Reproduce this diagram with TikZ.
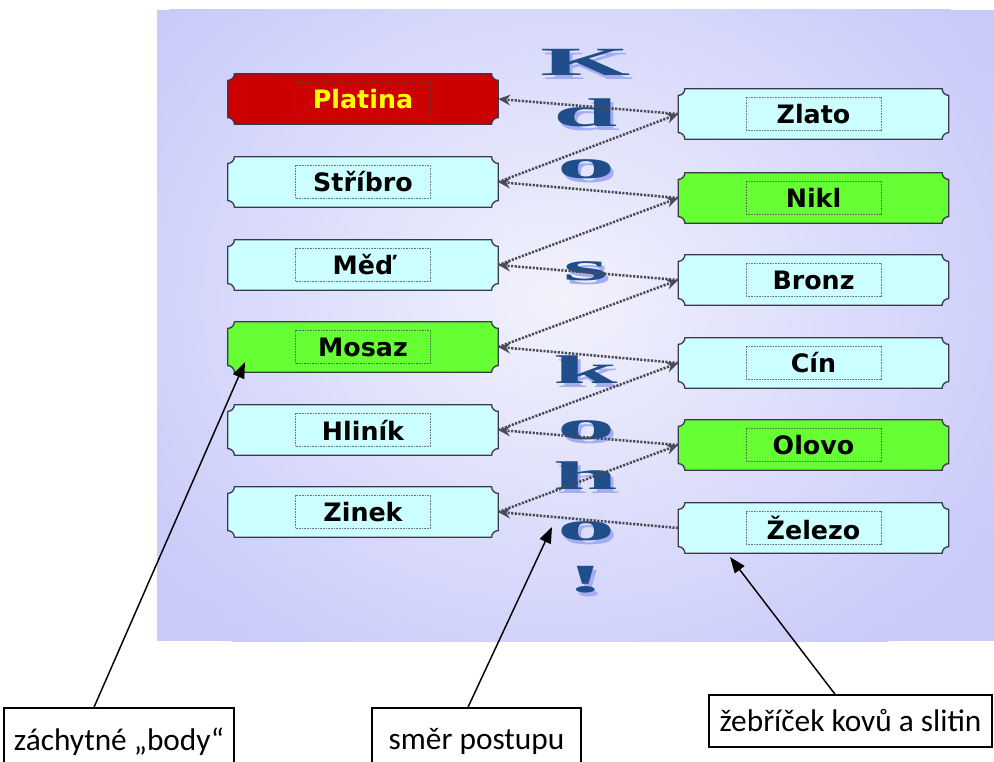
\documentclass[tikz,border=0pt]{standalone}
\usepackage{fontspec}
\setmainfont{Carlito}
\newfontfamily\boxfont{DejaVu Sans}
\newfontfamily\letfont{Liberation Serif}
\usetikzlibrary{arrows.meta}
\definecolor{bgc}{HTML}{C8CAFA}
\definecolor{glowc}{HTML}{F2F2FC}
\definecolor{cyanf}{HTML}{CCFFFF}
\definecolor{greenf}{HTML}{66FF33}
\definecolor{redf}{HTML}{CC0000}
\definecolor{yellowt}{HTML}{FFFF00}
\definecolor{outc}{HTML}{3A3A4A}
\definecolor{innerc}{HTML}{404050}
\definecolor{connc}{HTML}{4A4A55}
\definecolor{letc}{HTML}{1F4E8A}
\definecolor{letsh}{HTML}{A4ADF2}
\def\nr{5pt}
\tikzset{
  plaquebox/.style={rectangle, minimum width=202.5pt, minimum height=37.5pt, inner sep=0pt, draw=none},
  innerbox/.style={rectangle, minimum width=101.25pt, minimum height=24.75pt, inner sep=0pt,
    draw=innerc, draw opacity=0.7, line width=0.45pt, dash pattern=on 0.6pt off 0.6pt,
    font=\boxfont\bfseries\fontsize{19}{22}\selectfont},
  conn/.style={draw=connc, line width=1.9pt, dash pattern=on 1.6pt off 1.1pt,
    -{Stealth[length=9pt,width=8pt,inset=3pt]}},
  callout/.style={draw=black, line width=1.1pt, -{Triangle[length=12pt,width=9pt]}},
  calbox/.style={rectangle, draw=black, line width=1.1pt, inner sep=0pt,
    font=\fontsize{23.5}{26}\selectfont},
  letter/.style={anchor=base, inner sep=0pt, font=\letfont\bfseries\fontsize{30}{32}\selectfont},
}
\newcommand\plaque[2]{%
  \path[draw=outc, line width=1pt, fill=#2]
    ([xshift=\nr]#1.north west) -- ([xshift=-\nr]#1.north east)
    arc[start angle=180,end angle=270,radius=\nr]
    -- ([yshift=\nr]#1.south east)
    arc[start angle=90,end angle=180,radius=\nr]
    -- ([xshift=\nr]#1.south west)
    arc[start angle=0,end angle=90,radius=\nr]
    -- ([yshift=-\nr]#1.north west)
    arc[start angle=270,end angle=360,radius=\nr] -- cycle;}
\newcommand\metal[5]{%
  \node[plaquebox] (#1) at #2 {};
  \plaque{#1}{#3}
  \node[innerbox, text=#4] (#1t) at (#1) {#5};}
\begin{document}
\begin{tikzpicture}[x=0.75pt,y=-0.75pt]
\useasboundingbox (0,0) rectangle (994,762);
\fill[white] (0,0) rectangle (994,762);
\begin{scope}
  \clip (157,10) rectangle (994,641);
  \fill[bgc] (157,10) rectangle (994,641);
  \shade[inner color=glowc, outer color=bgc] (560,300) ellipse [x radius=520, y radius=440];
\end{scope}
% letters
\foreach \ch/\yy [count=\i] in {K/76,d/127,o/179,s/281,k/383,o/439,h/489,o/540,!/592}{
  \node[letter, text=letsh] (ls\i) at (589,{\yy+4}) {\scalebox{2.9}[1]{\ch}};
  \node[letter, text=letc] (l\i) at (586,\yy) {\scalebox{2.9}[1]{\ch}};
}
% left column
\metal{pt}{(363,99)}{redf}{yellowt}{Platina}
\metal{st}{(363,182)}{cyanf}{black}{Stříbro}
\metal{me}{(363,265)}{cyanf}{black}{Měď}
\metal{mo}{(363,347)}{greenf}{black}{Mosaz}
\metal{hl}{(363,430)}{cyanf}{black}{Hliník}
\metal{zi}{(363,512)}{cyanf}{black}{Zinek}
% right column
\metal{zl}{(813.5,114)}{cyanf}{black}{Zlato}
\metal{ni}{(813.5,198)}{greenf}{black}{Nikl}
\metal{br}{(813.5,280)}{cyanf}{black}{Bronz}
\metal{ci}{(813.5,363)}{cyanf}{black}{Cín}
\metal{ol}{(813.5,445)}{greenf}{black}{Olovo}
\metal{ze}{(813.5,528)}{cyanf}{black}{Železo}
% connectors
\draw[conn] (zl.west) -- (pt.east);
\draw[conn] (st.east) -- (zl.west);
\draw[conn] (ni.west) -- (st.east);
\draw[conn] (me.east) -- (ni.west);
\draw[conn] (br.west) -- (me.east);
\draw[conn] (mo.east) -- (br.west);
\draw[conn] (ci.west) -- (mo.east);
\draw[conn] (hl.east) -- (ci.west);
\draw[conn] (ol.west) -- (hl.east);
\draw[conn] (zi.east) -- (ol.west);
\draw[conn] (ze.west) -- (zi.east);
% callouts
\node[calbox, minimum width=172.5pt, minimum height=50.25pt] (cb1) at (119,741.5) {záchytné „body“};
\node[calbox, minimum width=156.75pt, minimum height=50.25pt] (cb2) at (476.5,741.5) {směr postupu};
\node[calbox, minimum width=212.25pt, minimum height=39pt] (cb3) at (850.5,721) {žebříček kovů a slitin};
\coordinate (t1) at (245,362);
\coordinate (t2) at (552,527);
\coordinate (t3) at (730,557);
\draw[callout] ([xshift=-18.75pt]cb1.north) -- (t1);
\draw[callout] ([xshift=-6.4pt]cb2.north) -- (t2);
\draw[callout] ([xshift=-11.6pt]cb3.north) -- (t3);
\end{tikzpicture}
\end{document}
